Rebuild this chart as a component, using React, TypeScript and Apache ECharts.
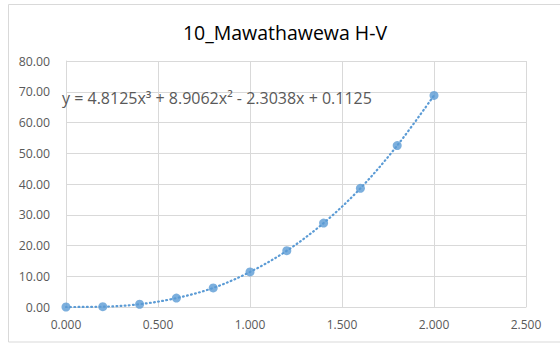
import React, { useEffect, useRef } from "react";
import * as echarts from "echarts";

const title = "10_Mawathawewa H-V";
const equation = "y = 4.8125x³ + 8.9062x² - 2.3038x + 0.1125";
const xValues = [0, 0.2, 0.4, 0.6, 0.8, 1.0, 1.2, 1.4, 1.6, 1.8, 2.0];
const yValues = [0, 0.1, 0.9, 2.9, 6.2, 11.4, 18.3, 27.3, 38.6, 52.5, 68.8];
const xAxisRange = { min: 0, max: 2.5, interval: 0.5 };
const yAxisRange = { min: 0, max: 80, interval: 10 };

const BLUE = "#5B9BD5";
const TEXT = "#595959";
const GRID = "#D9D9D9";
const FONT = "'Open Sans', 'Noto Sans', sans-serif";

export default function App() {
  const ref = useRef<HTMLDivElement>(null);
  useEffect(() => {
    if (!ref.current) return;
    const chart = echarts.init(ref.current, null, { renderer: "svg" });
    const points = xValues.map((x, i) => [x, yValues[i]]);
    chart.setOption({
      animation: false,
      backgroundColor: "#fff",
      textStyle: { fontFamily: FONT },
      grid: { left: 66, top: 61, width: 460, height: 246, containLabel: false },
      xAxis: {
        type: "value",
        min: xAxisRange.min,
        max: xAxisRange.max,
        interval: xAxisRange.interval,
        axisLine: { show: true, lineStyle: { color: GRID, width: 1 } },
        axisTick: { show: false },
        splitLine: { show: true, lineStyle: { color: GRID, width: 1 } },
        axisLabel: {
          color: TEXT,
          fontSize: 12,
          fontFamily: FONT,
          margin: 11,
          formatter: (v: number) => v.toFixed(3),
        },
      },
      yAxis: {
        type: "value",
        min: yAxisRange.min,
        max: yAxisRange.max,
        interval: yAxisRange.interval,
        axisLine: { show: true, lineStyle: { color: GRID, width: 1 } },
        axisTick: { show: false },
        splitLine: { show: true, lineStyle: { color: GRID, width: 1 } },
        axisLabel: {
          color: TEXT,
          fontSize: 12.3,
          fontFamily: FONT,
          margin: 16,
          formatter: (v: number) => v.toFixed(2),
        },
      },
      graphic: [
        {
          type: "rect",
          shape: { x: 8.5, y: 4.5, width: 560, height: 337.5 },
          style: { fill: "none", stroke: GRID, lineWidth: 1 },
          silent: true,
          z: -1,
        },
        {
          type: "text",
          x: 285,
          y: 32,
          style: {
            text: title,
            fill: "#000",
            fontSize: 19.5,
            fontFamily: FONT,
            textAlign: "center",
            textVerticalAlign: "middle",
          },
          z: 10,
        },
        {
          type: "text",
          x: 62,
          y: 97.5,
          style: {
            text: equation,
            fill: TEXT,
            fontSize: 16,
            fontFamily: FONT,
            textAlign: "left",
            textVerticalAlign: "middle",
          },
          z: 10,
        },
      ],
      series: [
        {
          type: "line",
          data: points,
          smooth: 0.35,
          symbol: "none",
          lineStyle: { color: BLUE, width: 2.2, type: [0.8, 3.4], cap: "round" },
          z: 2,
        },
        {
          type: "scatter",
          data: points,
          symbol: "circle",
          symbolSize: 9,
          itemStyle: { color: BLUE },
          z: 3,
        },
      ],
    });
    return () => chart.dispose();
  }, []);
  return (
    <div
      ref={ref}
      style={{ position: "fixed", left: 0, top: 0, width: 560, height: 345 }}
    />
  );
}
